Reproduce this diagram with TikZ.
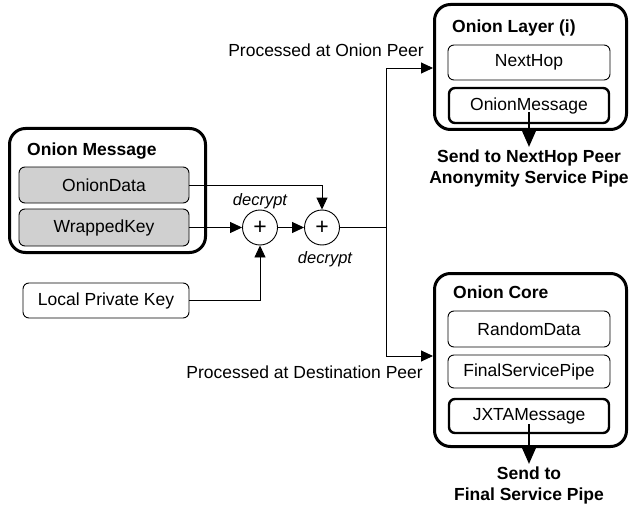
\documentclass[tikz,border=0pt]{standalone}
\usepackage{fontspec}
\setmainfont{Liberation Sans}
\usepackage{xcolor}
\usetikzlibrary{arrows.meta}
\definecolor{OMGray}{HTML}{D0D0D0}
\definecolor{OMInk}{HTML}{000000}

\begin{document}
\begin{tikzpicture}[x=1pt,y=-1pt,
  txt/.style={font=\fontsize{17.5}{20.5}\selectfont},
  title/.style={font=\fontsize{17.5}{20.5}\selectfont\bfseries,inner sep=0pt},
  outerbox/.style={draw=OMInk,line width=3pt,rounded corners=16pt,inner sep=0pt},
  field/.style={txt,draw=OMInk,line width=0.9pt,rounded corners=6pt,inner sep=0pt},
  heavyfield/.style={field,line width=2.4pt},
  grayfield/.style={field,fill=OMGray},
  xorop/.style={circle,draw=OMInk,line width=0.9pt,minimum size=35pt,inner sep=0pt,font=\fontsize{23}{23}\selectfont},
  arr/.style={draw=OMInk,line width=0.9pt,-{Triangle[length=12pt,width=11pt]}},
  bigarr/.style={draw=OMInk,line width=2.5pt,-{Triangle[length=18pt,width=15pt]}},
  note/.style={font=\fontsize{16.5}{19}\selectfont\itshape,inner sep=0pt}]
\path[use as bounding box] (0,0) rectangle (629,508);

% onion message
\node[outerbox,minimum width=196pt,minimum height=124pt] (msg) at (107.5,190.5) {};
\node[title,anchor=base west] (msgtitle) at (27,156) {Onion Message};
\node[grayfield,minimum width=170pt,minimum height=36pt] (od) at (104,185) {OnionData};
\node[grayfield,minimum width=170pt,minimum height=37pt] (wk) at (104,227.5) {WrappedKey};
\node[field,minimum width=166pt,minimum height=35pt] (lpk) at (106,300.5) {Local Private Key};

% the two decrypt steps
\node[xorop] (xa) at (260,227.5) {+};
\node[xorop] (xb) at (322,227.5) {+};
\node[note,anchor=base] (dca) at (260,205) {decrypt};
\node[note,anchor=base] (dcb) at (325,263) {decrypt};

% onion layer
\node[outerbox,minimum width=192pt,minimum height=125pt] (layer) at (530.5,67) {};
\node[title,anchor=base west] (layertitle) at (452,33) {Onion Layer (i)};
\node[field,minimum width=162pt,minimum height=35pt] (nh) at (529,62.5) {NextHop};
\node[heavyfield,minimum width=160pt,minimum height=35pt] (omsg) at (529,105.5) {OnionMessage};
\node[title,align=center,anchor=north] (sendhop) at (529,150) {Send to NextHop Peer\\Anonymity Service Pipe};

% onion core
\node[outerbox,minimum width=192pt,minimum height=173pt] (core) at (530.5,360) {};
\node[title,anchor=base west] (coretitle) at (453,298) {Onion Core};
\node[field,minimum width=162pt,minimum height=36pt] (rd) at (529,329) {RandomData};
\node[field,minimum width=162pt,minimum height=33pt] (fsp) at (529,371.5) {FinalServicePipe};
\node[heavyfield,minimum width=160pt,minimum height=34pt] (jxta) at (529,416) {JXTAMessage};
\node[title,align=center,anchor=north] (sendfinal) at (529,467) {Send to\\Final Service Pipe};

\node[txt,anchor=base east,inner sep=0pt] (peerlbl) at (424,57) {Processed at Onion Peer};
\node[txt,anchor=base east,inner sep=0pt] (destlbl) at (423,378) {Processed at Destination Peer};

\coordinate (split) at (386,227.5);

% connectors
\draw[arr] (wk.east) -- (xa.west);
\draw[arr] (xa.east) -- (xb.west);
\draw[arr] (od.east) -| (xb.north);
\draw[arr] (lpk.east) -| (xa.south);
\draw[OMInk,line width=0.9pt] (xb.east) -- (split);
\draw[arr] (split) |- ([yshift=-1pt]layer.west);
\draw[arr] (split) |- ([yshift=4pt]core.west);
\draw[bigarr] ([yshift=12pt]omsg.south) -- ([yshift=3pt]sendhop.north);
\draw[bigarr] ([yshift=10pt]jxta.south) -- ([yshift=3pt]sendfinal.north);
\end{tikzpicture}
\end{document}
